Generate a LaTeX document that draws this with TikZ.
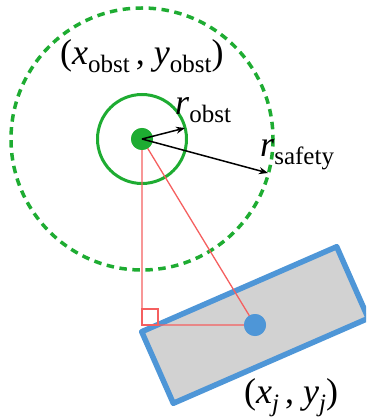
\documentclass[tikz,border=0pt]{standalone}
\usepackage{fontspec}
\setmainfont{Liberation Serif}
\newfontfamily\tnrfont{Liberation Serif}
\usetikzlibrary{arrows.meta}
\definecolor{obsgreen}{RGB}{30,172,50}
\definecolor{carblue}{RGB}{78,150,215}
\definecolor{cargray}{RGB}{210,210,210}
\definecolor{linered}{RGB}{245,95,95}
\newcommand{\lowsub}[1]{\raisebox{-8pt}{\fontsize{25}{25}\selectfont #1}}
\tikzset{
  biglabel/.style={anchor=base west, inner sep=0pt, font=\tnrfont\fontsize{36}{36}\selectfont},
  radarrow/.style={draw=black, line width=1.5pt, -{Stealth[length=9pt,width=7pt]}},
  redline/.style={draw=linered, line width=1.3pt},
  dotnode/.style={circle, inner sep=0pt, minimum size=22pt}
}
\begin{document}
\begin{tikzpicture}[x=1pt,y=-1pt]
\useasboundingbox (0,0) rectangle (366,419);
\clip (0,0) rectangle (366,419);
% safety circle
\draw[obsgreen, line width=3.5pt, dash pattern=on 7.5pt off 5.5pt] (142,139) circle (131);
% obstacle circle
\draw[obsgreen, line width=3pt] (142,139) circle (44.5);
% vehicle rectangle
\coordinate (tl) at (141.7,331.7);
\coordinate (tr) at (336.7,246.7);
\coordinate (br) at (368.3,318.3);
\coordinate (bl) at (173.3,403.3);
\draw[carblue, fill=cargray, line width=5.5pt, line join=round] (tl) -- (tr) -- (br) -- (bl) -- cycle;
% nodes
\node[dotnode, fill=obsgreen] (obs) at (142,139) {};
\coordinate (foot) at (142,325);
\node[dotnode, fill=carblue] (car) at (255,325) {};
% red triangle
\draw[redline] (obs.center) -- (foot) -- (car.center) -- cycle;
\draw[draw=linered, line width=1.2pt] (foot) rectangle (158,309);
\node[dotnode, fill=carblue] at (car) {};
\node[dotnode, fill=obsgreen] at (obs) {};
% radius arrows
\coordinate (robstend) at (185,128);
\coordinate (rsafeend) at (268,173);
\draw[radarrow] (obs.center) -- (robstend);
\draw[radarrow] (obs.center) -- (rsafeend);
% labels
\node[biglabel] (lobs) at (60,65) {(\textit{x}\lowsub{obst}\,,\ \textit{y}\lowsub{obst})};
\node[biglabel] (lrobst) at (175,115) {\textit{r}\lowsub{obst}};
\node[biglabel] (lrsafe) at (260,157) {\textit{r}\lowsub{safety}};
\node[biglabel] (lcar) at (244,403) {(\textit{x}\lowsub{\textit{j}}\,,\ \textit{y}\lowsub{\textit{j}})};
\end{tikzpicture}
\end{document}
